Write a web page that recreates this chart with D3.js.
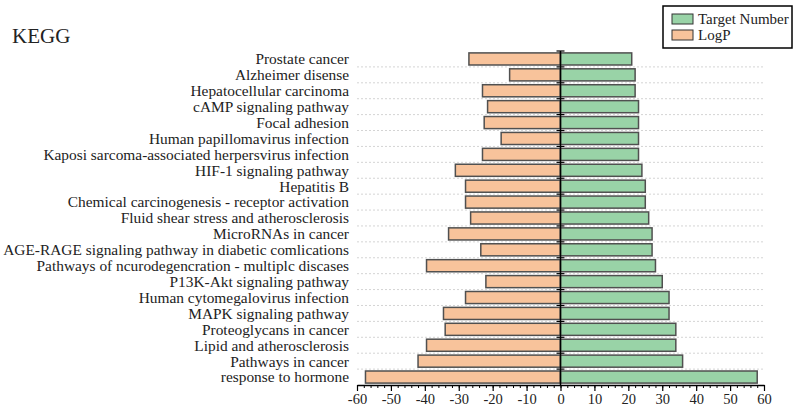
<!DOCTYPE html>
<html>
<head>
<meta charset="utf-8">
<script src="https://d3js.org/d3.v7.min.js"></script>
<style>
  body { margin: 0; padding: 0; background: #fff; }
  text { font-family: "Liberation Serif", "Times New Roman", serif; fill: #222; }
</style>
</head>
<body>
<div id="chart"></div>
<script>
// pathways, top to bottom
var pathways = [
  "Prostate cancer", "Alzheimer disense", "Hepatocellular carcinoma",
  "cAMP signaling pathway", "Focal adhesion", "Human papillomavirus infection",
  "Kaposi sarcoma-associated herpersvirus infection", "HIF-1 signaling pathway",
  "Hepatitis B", "Chemical carcinogenesis - receptor activation",
  "Fluid shear stress and atherosclerosis", "MicroRNAs in cancer",
  "AGE-RAGE signaling pathway in diabetic comlications",
  "Pathways of ncurodegencration - multiplc discases", "P13K-Akt signaling pathway",
  "Human cytomegalovirus infection", "MAPK signaling pathway",
  "Proteoglycans in cancer", "Lipid and atherosclerosis", "Pathways in cancer",
  "response to hormone"
];
var targetNumber = [21, 22, 22, 23, 23, 23, 23, 24, 25, 25, 26, 27, 27, 28, 30, 32, 32, 34, 34, 36, 58];
var logP = [-27, -15, -23, -21.5, -22.5, -17.5, -23, -31, -28, -28, -26.5, -33, -23.5, -39.5, -22, -28, -34.5, -34, -39.5, -42, -57.5];
var xTicks = [-60, -50, -40, -30, -20, -10, 0, 10, 20, 30, 40, 50, 60];

var W = 798, H = 408;
var green = "#99d3a7", orange = "#f8c39b";

var svg = d3.select("#chart").append("svg")
    .attr("width", W).attr("height", H);

var x = d3.scaleLinear().domain([-60, 60]).range([357, 764]);
var y = d3.scaleBand().domain(pathways).range([51, 385])
    .paddingInner(0.24).paddingOuter(0.12);

// title
svg.append("text").attr("x", 12).attr("y", 43)
    .style("font-size", "21px").text("KEGG");

// dotted grid at row boundaries
var bounds = pathways.slice(1).map(function(p) { return y(p) - y.step() * 0.12; });
svg.append("g").selectAll("line").data(bounds).enter().append("line")
    .attr("x1", x(-60)).attr("x2", x(60))
    .attr("y1", function(d) { return d; }).attr("y2", function(d) { return d; })
    .attr("stroke", "#d4d4d4").attr("stroke-dasharray", "2,2");

// bars
var rows = pathways.map(function(p, i) { return { name: p, t: targetNumber[i], l: logP[i] }; });

svg.append("g").selectAll("rect").data(rows).enter().append("rect")
    .attr("x", function(d) { return x(d.l); })
    .attr("y", function(d) { return y(d.name); })
    .attr("width", function(d) { return x(0) - x(d.l); })
    .attr("height", y.bandwidth())
    .attr("fill", orange).attr("stroke", "#505050").attr("stroke-width", 1.5);

svg.append("g").selectAll("rect").data(rows).enter().append("rect")
    .attr("x", x(0))
    .attr("y", function(d) { return y(d.name); })
    .attr("width", function(d) { return x(d.t) - x(0); })
    .attr("height", y.bandwidth())
    .attr("fill", green).attr("stroke", "#505050").attr("stroke-width", 1.5);

// category labels
svg.append("g").selectAll("text").data(pathways).enter().append("text")
    .attr("x", 349)
    .attr("y", function(d) { return y(d) + y.bandwidth() / 2; })
    .attr("dy", "0.35em")
    .attr("text-anchor", "end")
    .style("font-size", "15.4px")
    .text(function(d) { return d; });

// vertical axis at zero with ticks at row boundaries
svg.append("line").attr("x1", x(0)).attr("x2", x(0))
    .attr("y1", 51).attr("y2", 385).attr("stroke", "#000").attr("stroke-width", 1.5);
svg.append("g").selectAll("line").data([51].concat(bounds)).enter().append("line")
    .attr("x1", x(0) - 4).attr("x2", x(0) + 4)
    .attr("y1", function(d) { return d; }).attr("y2", function(d) { return d; })
    .attr("stroke", "#000").attr("stroke-width", 1.2);

// x axis: minor ticks then major ticks
svg.append("g").attr("transform", "translate(0,385)")
    .call(d3.axisBottom(x).tickValues(d3.range(-60, 61, 2)).tickSize(3).tickFormat(""))
    .call(function(g) { g.select(".domain").remove(); })
    .selectAll("line").attr("stroke", "#000");

var xa = svg.append("g").attr("transform", "translate(0,385)")
    .call(d3.axisBottom(x).tickValues(xTicks).tickSize(6).tickSizeOuter(0).tickPadding(3)
        .tickFormat(function(d) { return String(d); }));
xa.select(".domain").attr("stroke", "#000").attr("stroke-width", 1.5);
xa.selectAll(".tick line").attr("stroke", "#000").attr("stroke-width", 1.2);
xa.selectAll(".tick text").style("font-size", "14.5px").attr("fill", "#222")
    .style("font-family", "'Liberation Serif', 'Times New Roman', serif");

// legend
var lg = svg.append("g").attr("transform", "translate(663,6)");
lg.append("rect").attr("width", 129).attr("height", 42)
    .attr("fill", "#fff").attr("stroke", "#000").attr("stroke-width", 1.5);
var legendItems = [["Target Number", green], ["LogP", orange]];
legendItems.forEach(function(it, i) {
    lg.append("rect").attr("x", 9).attr("y", 8 + i * 16).attr("width", 21).attr("height", 10)
        .attr("fill", it[1]).attr("stroke", "#333").attr("stroke-width", 1);
    lg.append("text").attr("x", 35).attr("y", 13 + i * 16).attr("dy", "0.35em")
        .style("font-size", "15px").text(it[0]);
});
</script>
</body>
</html>
